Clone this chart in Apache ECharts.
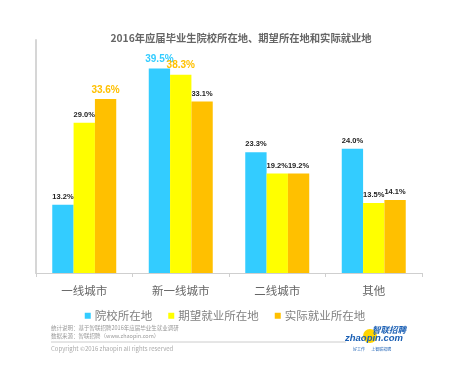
<!DOCTYPE html>
<html><head><meta charset="utf-8">
<script src="https://cdn.jsdelivr.net/npm/echarts@6/dist/echarts.min.js"></script>
<style>html,body{margin:0;padding:0;background:#fff}#c{width:450px;height:369px}</style>
</head><body><div id="c"></div>
<script>
const categories = ['一线城市', '新一线城市', '二线城市', '其他'];
const schoolLoc = [13.2, 39.5, 23.3, 24.0];
const expectLoc = [29.0, 38.3, 19.2, 13.5];
const actualLoc = [33.6, 33.1, 19.2, 14.1];
const seriesNames = ['院校所在地', '期望就业所在地', '实际就业所在地'];
const colors = ['#33ccff', '#ffff00', '#ffc000'];
// highlighted labels: [seriesIndex, dataIndex, color]
const highlights = [[0, 1, '#33ccff'], [1, 1, '#ffc000'], [2, 0, '#ffc000']];

const font = '"Noto Sans CJK SC", "Noto Sans", sans-serif';
const numFont = '"Liberation Sans", Arial, sans-serif';
function mkData(arr, si) {
  return arr.map((v, i) => {
    const h = highlights.find(x => x[0] === si && x[1] === i);
    if (h) return { value: v, label: { color: h[2], fontSize: 10, fontWeight: 'bold' } };
    return v;
  });
}
const baseLabel = {
  show: true, position: 'top', distance: 4,
  formatter: p => p.value.toFixed(1) + '%',
  fontSize: 7.5, fontWeight: 'bold', color: '#222', fontFamily: numFont
};
const series = [schoolLoc, expectLoc, actualLoc].map((arr, si) => ({
  name: seriesNames[si], type: 'bar', data: mkData(arr, si),
  barGap: '0%', barCategoryGap: '33.7%',
  itemStyle: { color: colors[si] },
  label: Object.assign({}, baseLabel)
}));

const chart = echarts.init(document.getElementById('c'));
chart.setOption({
  animation: false,
  backgroundColor: '#fff',
  title: {
    text: '2016年应届毕业生院校所在地、期望所在地和实际就业地',
    left: 236, top: 28, textAlign: 'center',
    textStyle: { fontSize: 10.3, fontWeight: 'bold', color: '#666', fontFamily: font }
  },
  grid: { left: 36, right: 28, top: 40, bottom: 96 },
  xAxis: {
    type: 'category', data: categories,
    axisLine: { lineStyle: { color: '#cfcfcf', width: 1 } },
    axisTick: { show: true, length: 4, lineStyle: { color: '#cfcfcf' } },
    axisLabel: { fontSize: 11.5, color: '#666', margin: 12, fontFamily: font }
  },
  yAxis: {
    type: 'value', min: 0, max: 45,
    axisLine: { show: true, lineStyle: { color: '#d6d6d6', width: 2 } },
    axisTick: { show: false }, axisLabel: { show: false }, splitLine: { show: false }
  },
  legend: {
    data: seriesNames, left: 'center', top: 305, icon: 'rect',
    itemWidth: 6, itemHeight: 6, itemGap: 16, itemStyle: { borderWidth: 0 },
    textStyle: { fontSize: 11.5, color: '#808080', fontFamily: font, padding: [0, 0, 0, -1] }
  },
  series: series,
  graphic: [
    { type: 'text', left: 51, top: 325, style: { text: '统计说明：基于智联招聘2016年应届毕业生就业调研', fontSize: 5.5, fill: '#999', fontFamily: font } },
    { type: 'text', left: 51, top: 333, style: { text: '数据来源：智联招聘（www.zhaopin.com）', fontSize: 5.5, fill: '#999', fontFamily: font } },
    { type: 'line', shape: { x1: 51, y1: 342, x2: 346, y2: 342 }, style: { stroke: '#cccccc', lineWidth: 1 } },
    { type: 'text', left: 51, top: 346, style: { text: 'Copyright ©2016 zhaopin all rights reserved', fontSize: 6, fill: '#aaa', fontFamily: font } },
    { type: 'circle', shape: { cx: 370, cy: 336, r: 7 }, style: { fill: '#ffd400' } },
    { type: 'text', left: 372, top: 326, style: { text: '智联招聘', fontSize: 8.5, fontWeight: 'bold', fontStyle: 'italic', fill: '#1a5fb4', fontFamily: font } },
    { type: 'text', left: 345, top: 333, style: { text: 'zhaopin.com', fontSize: 9.5, fontWeight: 'bold', fontStyle: 'italic', fill: '#1a5fb4', fontFamily: numFont } },
    { type: 'text', left: 353, top: 347, style: { text: '好工作       上智联招聘', fontSize: 4, fill: '#1a5fb4', fontFamily: font } }
  ]
});
</script></body></html>
